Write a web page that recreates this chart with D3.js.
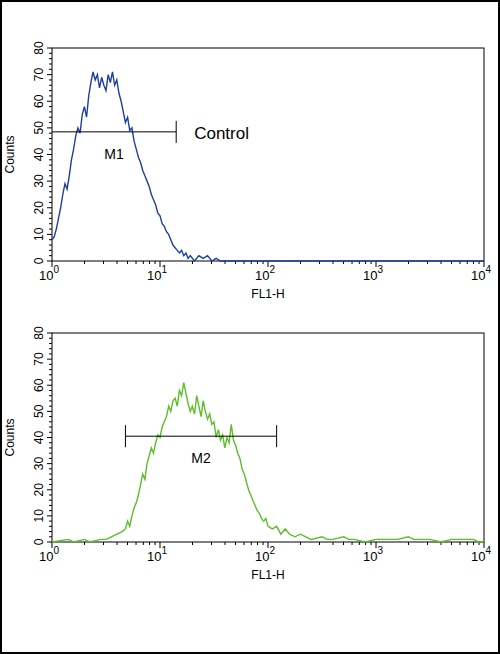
<!DOCTYPE html>
<html><head><meta charset="utf-8">
<script src="https://cdn.jsdelivr.net/npm/d3@7"></script>
<style>body{margin:0;background:#fff}svg{display:block;font-family:Arial,"Liberation Sans",sans-serif}</style>
</head><body><svg id="c" width="500" height="654"></svg>
<script>
// log10 channel position, counts
var ctrlLog = [0,0.02,0.04,0.06,0.08,0.10,0.12,0.14,0.16,0.18,0.20,0.22,0.24,0.26,0.28,0.30,0.32,0.34,0.36,0.38,0.40,0.42,0.44,0.46,0.48,0.50,0.52,0.54,0.56,0.58,0.60,0.62,0.64,0.66,0.68,0.70,0.72,0.74,0.76,0.78,0.80,0.82,0.84,0.86,0.88,0.90,0.92,0.94,0.96,0.98,1.00,1.02,1.04,1.06,1.08,1.10,1.12,1.14,1.16,1.18,1.20,1.22,1.24,1.26,1.28,1.32,1.36,1.40,1.44,1.48,1.52,1.56,1.62,4]
var ctrlCounts = [8,9,12,16,20,25,29,27,32,38,42,47,50,48,55,58,54,62,67,71,68,70,65,69,66,64,70,67,71,66,68,63,60,56,52,54,49,50,45,42,39,37,34,32,30,28,25,23,21,18,17,14,13,11,10,8,6,5,4,3,4,2,3,1,2,0,2,1,2,0,1,0,0,0]
var sampLog = [0,0.15,0.2,0.3,0.35,0.45,0.5,0.55,0.6,0.65,0.68,0.70,0.72,0.74,0.76,0.78,0.80,0.82,0.84,0.86,0.88,0.90,0.92,0.94,0.96,0.98,1.00,1.02,1.04,1.06,1.08,1.10,1.12,1.14,1.16,1.18,1.20,1.22,1.24,1.26,1.28,1.30,1.32,1.34,1.36,1.38,1.40,1.42,1.44,1.46,1.48,1.50,1.52,1.54,1.56,1.58,1.60,1.62,1.64,1.66,1.68,1.70,1.72,1.74,1.76,1.78,1.80,1.82,1.84,1.86,1.88,1.90,1.92,1.94,1.96,1.98,2.00,2.04,2.08,2.12,2.16,2.2,2.25,2.3,2.35,2.4,2.5,2.55,2.6,2.7,2.75,2.8,2.9,3.0,3.2,3.3,3.35,3.5,3.6,3.7,3.8,3.9,3.95,4]
var sampCounts = [0,1,0,1,0,1,1,2,3,4,5,8,6,10,13,15,18,22,26,24,30,33,36,34,38,41,40,44,46,48,52,50,54,55,52,58,56,61,57,53,50,52,49,56,52,48,54,50,47,49,45,46,40,43,39,41,36,40,38,45,39,37,34,32,28,26,23,20,18,16,14,12,11,9,8,9,6,5,6,3,5,3,2,3,2,1,2,1,1,2,1,1,0,1,1,2,1,1,0,1,1,1,0,0]
var yTicks = [0,10,20,30,40,50,60,70,80]
var xDecades = [0,1,2,3,4]

var svg = d3.select('#c')
svg.append('rect').attr('x',1).attr('y',1).attr('width',498).attr('height',652)
    .attr('fill','none').attr('stroke','#000').attr('stroke-width',2)

function panel(top, bottom, logs, counts, color, marker) {
    var x = d3.scaleLinear().domain([0,4]).range([52,484])
    var y = d3.scaleLinear().domain([0,80]).range([bottom,top])
    var g = svg.append('g')
    g.append('rect').attr('x',52).attr('y',top).attr('width',432).attr('height',bottom-top)
        .attr('fill','none').attr('stroke','#000').attr('stroke-width',1)
    // y ticks
    d3.range(0,81,2).forEach(function(v) {
        var major = v % 10 == 0
        g.append('line').attr('x1',52-(major?5:3)).attr('x2',52).attr('y1',y(v)).attr('y2',y(v))
            .attr('stroke','#000')
    })
    yTicks.forEach(function(v) {
        g.append('text').attr('transform','translate(43,'+y(v)+') rotate(-90)')
            .attr('text-anchor','middle').style('font-size','12px').text(v)
    })
    // x ticks
    xDecades.forEach(function(d) {
        g.append('line').attr('x1',x(d)).attr('x2',x(d)).attr('y1',bottom).attr('y2',bottom+6).attr('stroke','#000')
        if (d < 4) d3.range(2,10).forEach(function(m) {
            var p = x(d + Math.log10(m))
            g.append('line').attr('x1',p).attr('x2',p).attr('y1',bottom).attr('y2',bottom+3).attr('stroke','#000')
        })
        var t = g.append('text').attr('x',x(d)-3).attr('y',bottom+19).attr('text-anchor','middle').style('font-size','13px')
        t.append('tspan').text('10')
        t.append('tspan').attr('dy',-7).style('font-size','10px').text(d)
    })
    g.append('text').attr('x',268).attr('y',bottom+37).attr('text-anchor','middle').style('font-size','12px').text('FL1-H')
    g.append('text').attr('transform','translate(14,'+((top+bottom)/2)+') rotate(-90)')
        .attr('text-anchor','middle').style('font-size','12px').text('Counts')
    var pts = logs.map(function(l,i){return [x(l), y(counts[i])]})
    g.append('path').attr('d', d3.line()(pts))
        .attr('fill','none').attr('stroke',color).attr('stroke-width',1.4)
    var my = y(marker.level)
    g.append('line').attr('x1',x(marker.from)).attr('x2',x(marker.to)).attr('y1',my).attr('y2',my).attr('stroke','#000')
    ;[marker.from, marker.to].forEach(function(v){
        if (v > 0) g.append('line').attr('x1',x(v)).attr('x2',x(v)).attr('y1',my-11).attr('y2',my+11).attr('stroke','#000')
    })
    g.append('text').attr('x',x((marker.from+marker.to)/2)).attr('y',my+27).attr('text-anchor','middle')
        .style('font-size','14px').text(marker.name)
    if (marker.extra) g.append('text').attr('x',x(marker.to)+18).attr('y',my+7).style('font-size','17px').text(marker.extra)
}

panel(48, 261, ctrlLog, ctrlCounts, '#1f3fa0', {from:0, to:1.15, level:48.5, name:'M1', extra:'Control'})
panel(333, 542, sampLog, sampCounts, '#5cbf2a', {from:0.68, to:2.08, level:40.5, name:'M2'})
</script></body></html>
